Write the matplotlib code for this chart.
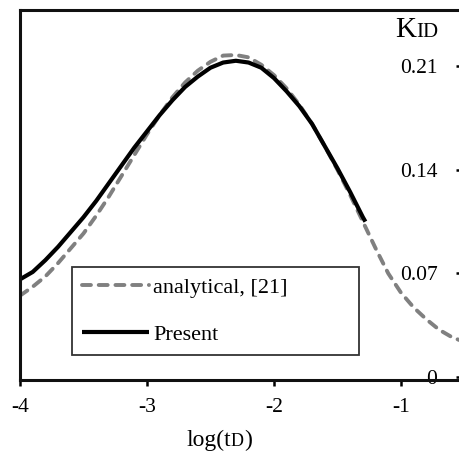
import matplotlib
matplotlib.use("Agg")
import matplotlib.pyplot as plt
from matplotlib.offsetbox import TextArea, HPacker, AnchoredOffsetbox

plt.rcParams['font.family'] = ['Liberation Serif', 'DejaVu Serif']

# ---- data ----
present_x = [-4.0, -3.9, -3.8, -3.7, -3.6, -3.5, -3.4, -3.3, -3.2, -3.1, -3.0, -2.9, -2.8,
             -2.7, -2.6, -2.5, -2.4, -2.3, -2.2, -2.1, -2.0, -1.9, -1.8, -1.7, -1.6, -1.5,
             -1.4, -1.3, -1.28]
present_y = [0.066, 0.071, 0.079, 0.088, 0.098, 0.108, 0.119, 0.131, 0.143, 0.155, 0.166,
             0.177, 0.187, 0.196, 0.203, 0.209, 0.2125, 0.2137, 0.2125, 0.209, 0.202, 0.193,
             0.183, 0.171, 0.156, 0.141, 0.125, 0.108, 0.105]

analytical_x = [-4.0, -3.9, -3.8, -3.7, -3.6, -3.5, -3.4, -3.3, -3.2, -3.1, -3.0, -2.9, -2.8,
                -2.7, -2.6, -2.5, -2.4, -2.3, -2.2, -2.1, -2.0, -1.9, -1.8, -1.7, -1.6, -1.5,
                -1.4, -1.3, -1.2, -1.1, -1.0, -0.9, -0.8, -0.7, -0.6, -0.54]
analytical_y = [0.055, 0.061, 0.068, 0.077, 0.087, 0.097, 0.109, 0.122, 0.136, 0.150, 0.164,
                0.177, 0.189, 0.199, 0.207, 0.213, 0.2172, 0.2176, 0.216, 0.211, 0.204, 0.195,
                0.184, 0.171, 0.156, 0.140, 0.123, 0.105, 0.087, 0.070, 0.057, 0.047, 0.039,
                0.032, 0.027, 0.025]

x_ticks = [-4, -3, -2, -1]
x_tick_labels = ['-4', '-3', '-2', '-1']
y_ticks = [0, 0.07, 0.14, 0.21]
y_tick_labels = ['0', '0.07', '0.14', '0.21']
label_analytical = 'analytical, [21]'
label_present = 'Present'

# ---- figure ----
W, H = 459, 454
fig = plt.figure(figsize=(W / 100, H / 100), dpi=100)
ax = fig.add_axes([20 / W, (H - 380) / H, (W - 20) / W, 370 / H])

ax.plot(analytical_x, analytical_y, color='#808080', lw=2.8,
        linestyle=(0, (2.3, 2.0)), dash_capstyle='round', label=label_analytical)
ax.plot(present_x, present_y, color='black', lw=3.0, solid_capstyle='butt',
        label=label_present)

ax.set_xlim(-4, -0.543)
ax.set_ylim(-0.002, 0.248)

for s in ['left', 'top', 'bottom']:
    ax.spines[s].set_linewidth(2.2)
    ax.spines[s].set_color('#111111')
ax.spines['right'].set_visible(False)

ax.set_xticks(x_ticks)
ax.set_xticklabels(x_tick_labels)
ax.tick_params(axis='x', direction='out', length=4, width=1.8, labelsize=15.5, pad=9)

ax.yaxis.set_ticks_position('right')
ax.set_yticks(y_ticks)
ax.set_yticklabels(y_tick_labels)
ax.tick_params(axis='y', direction='in', length=2.5, width=1.8, labelsize=15.5, pad=-15.5)
for lbl in ax.get_yticklabels():
    lbl.set_horizontalalignment('right')

# legend
leg = ax.legend(loc='upper left', bbox_to_anchor=(0.1185, 0.0622, 0.654, 0.2432),
                mode='expand', borderaxespad=0, fancybox=False, frameon=True,
                edgecolor='black', fontsize=16, handlelength=3.0, handletextpad=0.2,
                labelspacing=1.22, borderpad=0.45)
leg.get_frame().set_linewidth(1.3)

# axis titles (small-caps style pieces on one baseline)
def packed(parts, loc_xy):
    boxes = [TextArea(t, textprops=dict(size=sz, color='black')) for t, sz in parts]
    pk = HPacker(children=boxes, align='baseline', pad=0, sep=0)
    ab = AnchoredOffsetbox(loc='center', child=pk, frameon=False,
                           bbox_to_anchor=loc_xy, bbox_transform=ax.transAxes,
                           borderpad=0, pad=0)
    ax.add_artist(ab)
    ab.set_clip_on(False)
    return ab

packed([('log(t', 17), ('D', 13), (')', 17)], ((219 - 20) / 439, (380 - 440) / 370))
packed([('K', 21), ('ID', 15)], ((417 - 20) / 439, (380 - 30) / 370))

fig.savefig('out.png', dpi=100)
